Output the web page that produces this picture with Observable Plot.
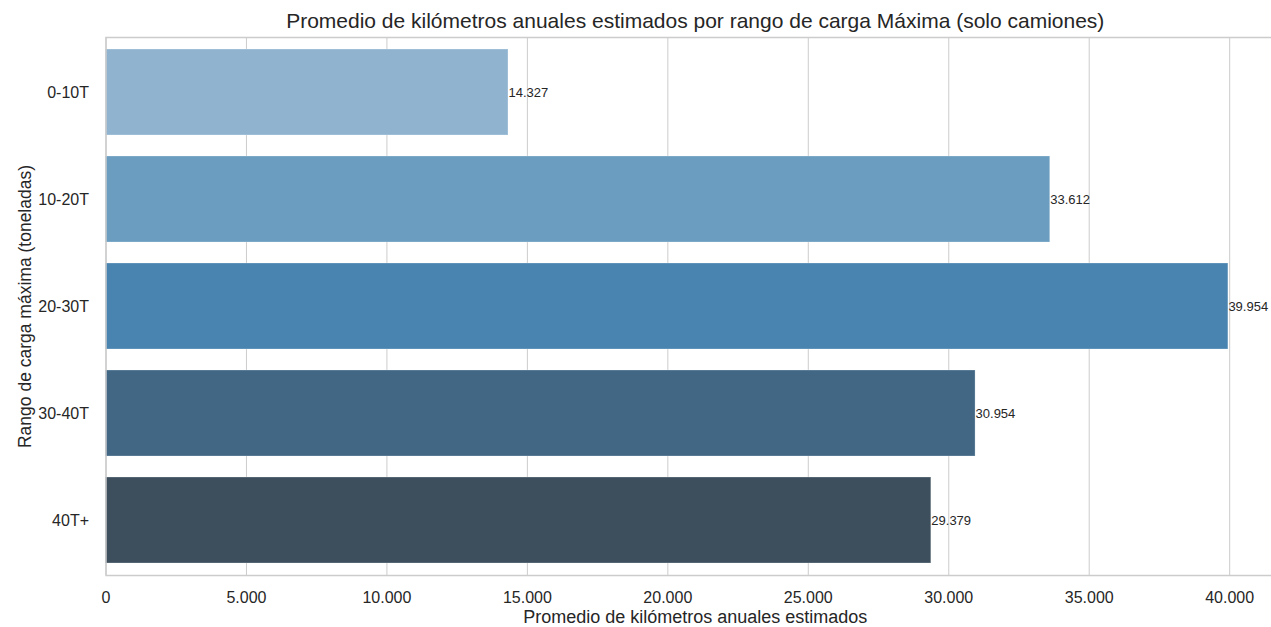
<!DOCTYPE html>
<html>
<head>
<meta charset="utf-8">
<script src="https://cdn.jsdelivr.net/npm/d3@7"></script>
<script src="https://cdn.jsdelivr.net/npm/@observablehq/plot@0.6"></script>
<style>
  html, body { margin: 0; padding: 0; background: #fff; }
  #chart svg { display: block; }
</style>
</head>
<body>
<div id="chart"></div>
<script>
const categories = ["0-10T", "10-20T", "20-30T", "30-40T", "40T+"];
const values = [14327, 33612, 39954, 30954, 29379];
const colors = ["#90b4d0", "#6a9dbf", "#4884af", "#426785", "#3d4f5d"];
const xTicks = [0, 5000, 10000, 15000, 20000, 25000, 30000, 35000, 40000];
const title = "Promedio de kilómetros anuales estimados por rango de carga Máxima (solo camiones)";
const xLabel = "Promedio de kilómetros anuales estimados";
const yLabel = "Rango de carga máxima (toneladas)";

const data = categories.map((c, i) => ({cat: c, value: values[i]}));
const es = d3.formatLocale({decimal: ",", thousands: ".", grouping: [3], currency: ["", "€"]});
const fmt = es.format(",d");
const textColor = "#262626";
const gridColor = "#cccccc";

const chart = Plot.plot({
  width: 1271,
  height: 627,
  marginTop: 37,
  marginBottom: 52,
  marginLeft: 105.5,
  marginRight: -13,
  style: {fontFamily: "'Liberation Sans', Arial, sans-serif", fontSize: "16px", color: textColor, background: "#fff"},
  x: {domain: [0, d3.max(values) * 1.05], ticks: xTicks, tickFormat: fmt, tickSize: 0, tickPadding: 16, label: null},
  y: {domain: categories, paddingInner: 0.2, paddingOuter: 0.1, tickSize: 0, tickPadding: 17, label: null},
  color: {domain: categories, range: colors},
  marks: [
    Plot.gridX(xTicks, {stroke: gridColor, strokeOpacity: 1, strokeWidth: 1}),
    Plot.barX(data, {x: "value", y: "cat", fill: "cat", stroke: "#ffffff", strokeOpacity: 0.25, strokeWidth: 1}),
    Plot.frame({stroke: gridColor, strokeWidth: 1.5}),
    Plot.text(data, {x: "value", y: "cat", text: d => fmt(d.value), textAnchor: "start", dx: 0, fontSize: 13, fill: textColor}),
    Plot.text([title], {frameAnchor: "top", dy: -16, fontSize: 21, fill: textColor, lineAnchor: "middle"}),
    Plot.text([xLabel], {frameAnchor: "bottom", dy: 42, fontSize: 18, fill: textColor, lineAnchor: "middle"}),
    Plot.text([yLabel], {frameAnchor: "left", dx: -81, rotate: -90, fontSize: 17.5, fill: textColor, textAnchor: "middle", lineAnchor: "middle"})
  ]
});
document.getElementById("chart").appendChild(chart);
</script>
</body>
</html>
